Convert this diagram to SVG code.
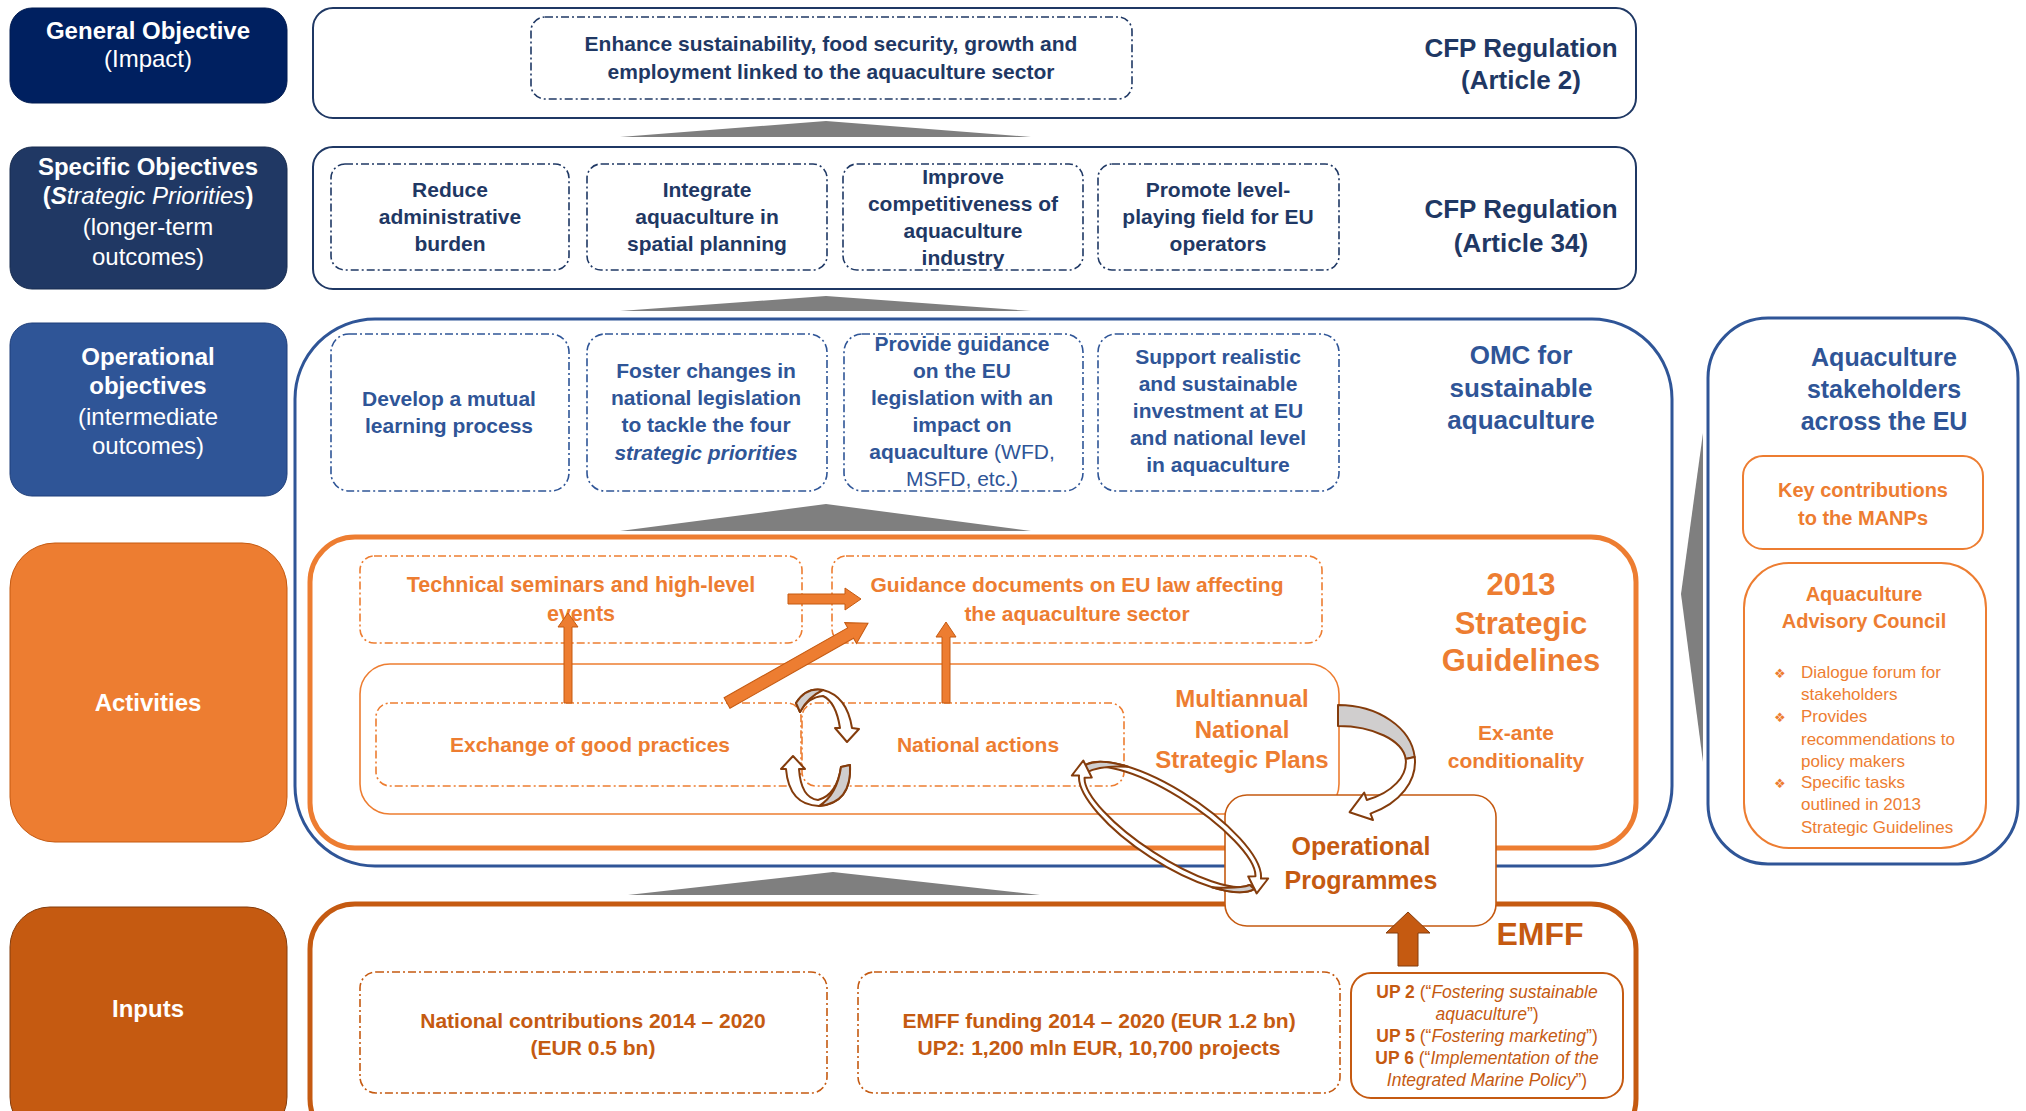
<svg xmlns="http://www.w3.org/2000/svg" width="2026" height="1111" viewBox="0 0 2026 1111">
<style>
text{font-family:"Liberation Sans",Arial,sans-serif;text-anchor:middle}
.b{font-weight:bold}
.i{font-style:italic}
.r{font-weight:normal}
.wt{fill:#fff;font-size:24px}
.nv{fill:#1F3864}
.bl{fill:#2F5597}
.or{fill:#ED7D31}
.br{fill:#C55A11}
.dn{fill:none;stroke:#1F3864;stroke-width:1.6;stroke-dasharray:8 3 2 3}
.db{fill:none;stroke:#2F5597;stroke-width:1.6;stroke-dasharray:8 3 2 3}
.do{fill:none;stroke:#ED7D31;stroke-width:1.6;stroke-dasharray:8 3 2 3}
.dr{fill:none;stroke:#C55A11;stroke-width:1.6;stroke-dasharray:8 3 2 3}
.tri{fill:#7F7F7F}
.oa{fill:#ED7D31;stroke:#C55A11;stroke-width:1}
.rib{fill:#fff;stroke:#843C0C;stroke-width:2;stroke-linejoin:round}
.gr{fill:#D0CECE;stroke:#843C0C;stroke-width:2;stroke-linejoin:round}
.bu{text-anchor:start;font-family:"DejaVu Sans",sans-serif;font-size:13px}
.lt{text-anchor:start}
</style>

<!-- left column -->
<g id="general-objective">
<rect x="10" y="8" width="277" height="95" rx="22" fill="#002060" stroke="#001A50"/>
<text class="wt b" x="148" y="39">General Objective</text>
<text class="wt" x="148" y="67">(Impact)</text>
</g>
<g id="specific-objectives">
<rect x="10" y="147" width="277" height="142" rx="22" fill="#203864" stroke="#172B4E"/>
<text class="wt b" x="148" y="175">Specific Objectives</text>
<text class="wt" x="148" y="204"><tspan class="b">(</tspan><tspan class="b i">S</tspan><tspan class="i">trategic Priorities</tspan><tspan class="b">)</tspan></text>
<text class="wt" x="148" y="235">(longer-term</text>
<text class="wt" x="148" y="265">outcomes)</text>
</g>
<g id="operational-objectives">
<rect x="10" y="323" width="277" height="173" rx="22" fill="#2F5597" stroke="#1F3F7A"/>
<text class="wt b" x="148" y="365">Operational</text>
<text class="wt b" x="148" y="394">objectives</text>
<text class="wt" x="148" y="425">(intermediate</text>
<text class="wt" x="148" y="454">outcomes)</text>
</g>
<g id="activities">
<rect x="10" y="543" width="277" height="299" rx="45" fill="#ED7D31" stroke="#C55A11"/>
<text class="wt b" x="148" y="711">Activities</text>
</g>
<g id="inputs">
<rect x="10" y="907" width="277" height="230" rx="40" fill="#C55A11" stroke="#843C0C"/>
<text class="wt b" x="148" y="1017">Inputs</text>
</g>

<!-- containers -->
<g id="cfp-article2">
<rect x="313" y="8" width="1323" height="110" rx="20" fill="#fff" stroke="#1F3864" stroke-width="2"/>
<text class="nv b" x="1521" y="57" font-size="26">CFP Regulation</text>
<text class="nv b" x="1521" y="89" font-size="26">(Article 2)</text>
</g>
<g id="general-enhance">
<rect class="dn" x="531" y="17" width="601" height="82" rx="14"/>
<text class="nv b" x="831" y="51" font-size="21">Enhance sustainability, food security, growth and</text>
<text class="nv b" x="831" y="79" font-size="21">employment linked to the aquaculture sector</text>
</g>

<g id="cfp-article34">
<rect x="313" y="147" width="1323" height="142" rx="20" fill="#fff" stroke="#1F3864" stroke-width="2"/>
<text class="nv b" x="1521" y="218" font-size="26">CFP Regulation</text>
<text class="nv b" x="1521" y="252" font-size="26">(Article 34)</text>
</g>
<g id="sp-reduce">
<rect class="dn" x="331" y="164" width="238" height="106" rx="14"/>
<text class="nv b" font-size="21" x="450" y="197">Reduce</text>
<text class="nv b" font-size="21" x="450" y="224">administrative</text>
<text class="nv b" font-size="21" x="450" y="251">burden</text>
</g>
<g id="sp-integrate">
<rect class="dn" x="587" y="164" width="240" height="106" rx="14"/>
<text class="nv b" font-size="21" x="707" y="197">Integrate</text>
<text class="nv b" font-size="21" x="707" y="224">aquaculture in</text>
<text class="nv b" font-size="21" x="707" y="251">spatial planning</text>
</g>
<g id="sp-improve">
<rect class="dn" x="843" y="164" width="240" height="106" rx="14"/>
<text class="nv b" font-size="21" x="963" y="184">Improve</text>
<text class="nv b" font-size="21" x="963" y="211">competitiveness of</text>
<text class="nv b" font-size="21" x="963" y="238">aquaculture</text>
<text class="nv b" font-size="21" x="963" y="265">industry</text>
</g>
<g id="sp-promote">
<rect class="dn" x="1098" y="164" width="241" height="106" rx="14"/>
<text class="nv b" font-size="21" x="1218" y="197">Promote level-</text>
<text class="nv b" font-size="21" x="1218" y="224">playing field for EU</text>
<text class="nv b" font-size="21" x="1218" y="251">operators</text>
</g>

<g id="omc">
<rect x="295" y="319" width="1377" height="547" rx="80" fill="#fff" stroke="#2F5597" stroke-width="3"/>
<text class="bl b" x="1521" y="364" font-size="26">OMC for</text>
<text class="bl b" x="1521" y="397" font-size="26">sustainable</text>
<text class="bl b" x="1521" y="429" font-size="26">aquaculture</text>
</g>
<g id="op-develop">
<rect class="db" x="331" y="334" width="238" height="157" rx="18"/>
<text class="bl b" font-size="21" x="449" y="406">Develop a mutual</text>
<text class="bl b" font-size="21" x="449" y="433">learning process</text>
</g>
<g id="op-foster">
<rect class="db" x="587" y="334" width="240" height="157" rx="18"/>
<text class="bl b" font-size="21" x="706" y="378">Foster changes in</text>
<text class="bl b" font-size="21" x="706" y="405">national legislation</text>
<text class="bl b" font-size="21" x="706" y="432">to tackle the four</text>
<text class="bl b i" font-size="21" x="706" y="460">strategic  priorities</text>
</g>
<g id="op-guidance">
<rect class="db" x="844" y="334" width="239" height="157" rx="18"/>
<text class="bl b" font-size="21" x="962" y="351">Provide guidance</text>
<text class="bl b" font-size="21" x="962" y="378">on the EU</text>
<text class="bl b" font-size="21" x="962" y="405">legislation with an</text>
<text class="bl b" font-size="21" x="962" y="432">impact on</text>
<text class="bl b" font-size="21" x="962" y="459">aquaculture<tspan class="r"> (WFD,</tspan></text>
<text class="bl" font-size="21" x="962" y="486">MSFD, etc.)</text>
</g>
<g id="op-support">
<rect class="db" x="1098" y="334" width="241" height="157" rx="18"/>
<text class="bl b" font-size="21" x="1218" y="364">Support realistic</text>
<text class="bl b" font-size="21" x="1218" y="391">and sustainable</text>
<text class="bl b" font-size="21" x="1218" y="418">investment at EU</text>
<text class="bl b" font-size="21" x="1218" y="445">and national level</text>
<text class="bl b" font-size="21" x="1218" y="472">in aquaculture</text>
</g>

<g id="strategic-guidelines">
<rect x="310" y="537" width="1326" height="311" rx="45" fill="#fff" stroke="#ED7D31" stroke-width="5"/>
<text class="or b" x="1521" y="595" font-size="31">2013</text>
<text class="or b" x="1521" y="634" font-size="31">Strategic</text>
<text class="or b" x="1521" y="671" font-size="31">Guidelines</text>
<text class="or b" x="1516" y="740" font-size="21">Ex-ante</text>
<text class="or b" x="1516" y="768" font-size="21">conditionality</text>
</g>
<g id="act-seminars">
<rect class="do" x="360" y="556" width="442" height="87" rx="14"/>
<text class="or b" font-size="21.5" x="581" y="592">Technical seminars and high-level</text>
<text class="or b" font-size="21.5" x="581" y="621">events</text>
</g>
<g id="act-guidance-docs">
<rect class="do" x="832" y="556" width="490" height="87" rx="14"/>
<text class="or b" font-size="21" x="1077" y="592">Guidance documents on EU law affecting</text>
<text class="or b" font-size="21" x="1077" y="621">the aquaculture sector</text>
</g>
<g id="act-mnsp">
<rect x="360" y="664" width="979" height="150" rx="30" fill="none" stroke="#ED7D31" stroke-width="1.6"/>
<text class="or b" font-size="24" x="1242" y="707">Multiannual</text>
<text class="or b" font-size="24" x="1242" y="738">National</text>
<text class="or b" font-size="24" x="1242" y="768">Strategic Plans</text>
</g>
<g id="act-exchange">
<rect class="do" x="376" y="703" width="425" height="83" rx="14"/>
<text class="or b" font-size="21" x="590" y="752">Exchange of good practices</text>
</g>
<g id="act-national">
<rect class="do" x="802" y="703" width="322" height="83" rx="14"/>
<text class="or b" font-size="21" x="978" y="752">National actions</text>
</g>

<g id="emff">
<rect x="310" y="904" width="1326" height="240" rx="45" fill="#fff" stroke="#C55A11" stroke-width="5"/>
<text class="br b" x="1540" y="945" font-size="32">EMFF</text>
</g>
<g id="in-national">
<rect class="dr" x="360" y="972" width="467" height="121" rx="16"/>
<text class="br b" font-size="21" x="593" y="1028">National contributions  2014 – 2020</text>
<text class="br b" font-size="21" x="593" y="1055">(EUR  0.5 bn)</text>
</g>
<g id="in-emff">
<rect class="dr" x="858" y="972" width="482" height="121" rx="16"/>
<text class="br b" font-size="21" x="1099" y="1028">EMFF  funding  2014 – 2020 (EUR  1.2 bn)</text>
<text class="br b" font-size="21" x="1099" y="1055">UP2: 1,200  mln EUR,  10,700  projects</text>
</g>
<g id="in-up">
<rect x="1351" y="973" width="272" height="125" rx="20" fill="#fff" stroke="#C55A11" stroke-width="2"/>
<text class="br" font-size="17.5" x="1487" y="998"><tspan class="b">UP 2</tspan> (“<tspan class="i">Fostering sustainable</tspan></text>
<text class="br" font-size="17.5" x="1487" y="1020"><tspan class="i">aquaculture</tspan>”)</text>
<text class="br" font-size="17.5" x="1487" y="1042"><tspan class="b">UP 5</tspan> (“<tspan class="i">Fostering marketing</tspan>”)</text>
<text class="br" font-size="17.5" x="1487" y="1064"><tspan class="b">UP 6</tspan> (“<tspan class="i">Implementation of the</tspan></text>
<text class="br" font-size="17.5" x="1487" y="1086"><tspan class="i">Integrated Marine Policy</tspan>”)</text>
</g>

<g id="operational-programmes">
<rect x="1225" y="795" width="271" height="131" rx="22" fill="#fff" stroke="#C55A11" stroke-width="1.6"/>
<text class="br b" font-size="25" x="1361" y="855">Operational</text>
<text class="br b" font-size="25" x="1361" y="889">Programmes</text>
</g>

<g id="stakeholders">
<rect x="1708" y="318" width="310" height="546" rx="60" fill="#fff" stroke="#2F5597" stroke-width="3"/>
<text class="bl b" font-size="25" x="1884" y="366">Aquaculture</text>
<text class="bl b" font-size="25" x="1884" y="398">stakeholders</text>
<text class="bl b" font-size="25" x="1884" y="430">across the EU</text>
</g>
<g id="key-contributions">
<rect x="1743" y="456" width="240" height="93" rx="20" fill="#fff" stroke="#ED7D31" stroke-width="2"/>
<text class="or b" font-size="20" x="1863" y="497">Key contributions</text>
<text class="or b" font-size="20" x="1863" y="525">to the MANPs</text>
</g>
<g id="advisory-council">
<rect x="1744" y="563" width="242" height="285" rx="45" fill="#fff" stroke="#ED7D31" stroke-width="2"/>
<text class="or b" font-size="20" x="1864" y="601">Aquaculture</text>
<text class="or b" font-size="20" x="1864" y="628">Advisory  Council</text>
<g class="or" font-size="17">
<text class="bu" x="1774" y="678">❖</text>
<text class="lt" x="1801" y="678">Dialogue forum for</text>
<text class="lt" x="1801" y="700">stakeholders</text>
<text class="bu" x="1774" y="722">❖</text>
<text class="lt" x="1801" y="722">Provides</text>
<text class="lt" x="1801" y="745">recommendations to</text>
<text class="lt" x="1801" y="767">policy makers</text>
<text class="bu" x="1774" y="788">❖</text>
<text class="lt" x="1801" y="788">Specific tasks</text>
<text class="lt" x="1801" y="810">outlined in 2013</text>
<text class="lt" x="1801" y="833">Strategic Guidelines</text>
</g>
</g>

<!-- connectors -->
<g id="connectors">
<polygon class="tri" points="620,137 826,121 1031,137"/>
<polygon class="tri" points="620,311 826,296 1031,311"/>
<polygon class="tri" points="620,531 826,504 1031,531"/>
<polygon class="tri" points="628,895 833,872 1040,895"/>
<polygon class="tri" points="1703,433 1681,594 1703,762"/>

<!-- activity arrows -->
<path class="oa" d="M564,703 L564,627 L558,627 L568,613 L578,627 L572,627 L572,703 Z"/>
<path class="oa" d="M788,594 L845,594 L845,588 L861,599 L845,610 L845,604 L788,604 Z"/>
<path class="oa" transform="translate(727,703) rotate(-29.5)" d="M0,-6 L142,-6 L142,-12 L162,0 L142,12 L142,6 L0,6 Z"/>
<path class="oa" d="M942,703 L942,637 L936,637 L946,622 L956,637 L950,637 L950,703 Z"/>

<!-- small cycle -->
<path class="rib" d="M796,703 Q806,687 823,690 Q847,696 852,728 L859,729 L847,742 L835,728 L840,728 Q836,702 823,696 Q808,697 800,712 Z"/>
<path class="gr" d="M796,703 Q806,687 823,690 Q808,697 800,712 Z"/>
<path class="rib" d="M850,765 Q852,803 819,806 Q789,805 786,769 L781,769 L793,756 L805,769 L799,769 Q801,798 818,800 Q837,795 841,767 Z"/>
<path class="gr" d="M850,765 Q852,803 819,806 Q837,795 841,767 Z"/>

<!-- NSP to OP arrow -->
<path class="gr" d="M1338,705 A77 57 0 0 1 1414.7,757 L1405.7,758.9 A68 36 0 0 0 1338,726 Z"/>
<path class="rib" d="M1414.7,757 A77 57 0 0 1 1370.5,813.6 L1373,820 L1349.6,812.2 L1364.2,792.6 L1366.8,800 A68 42 0 0 0 1405.7,758.9 Z"/>

<!-- OP loop -->
<g transform="translate(1170,827) rotate(33)">
<path class="rib" d="M-106,0 A106 36 0 0 1 104.4,-6.25 L110.4,-10.3 L108.9,8.5 L92.6,-1.1 L98.5,-5.2 A100 30 0 0 0 -100,0 Z"/>
<path class="gr" d="M-106,0 A106 36 0 0 1 -68,-27.6 Q-92,-14 -100,0 Z"/>
<path class="rib" d="M104.4,6.25 A106 36 0 0 1 -104.4,6.25 L-110.4,10.3 L-108.9,-8.5 L-92.6,1.1 L-98.5,5.2 A100 30 0 0 0 98.5,5.2 Z"/>
<path class="gr" d="M104.4,6.25 A106 36 0 0 1 68,27.6 Q92,14 98.5,5.2 Z"/>
</g>

<!-- EMFF to OP arrow -->
<path d="M1398,966 L1398,933 L1386,933 L1408,912 L1430,933 L1418,933 L1418,966 Z" fill="#C55A11" stroke="#843C0C" stroke-width="1"/>
</g>
</svg>
